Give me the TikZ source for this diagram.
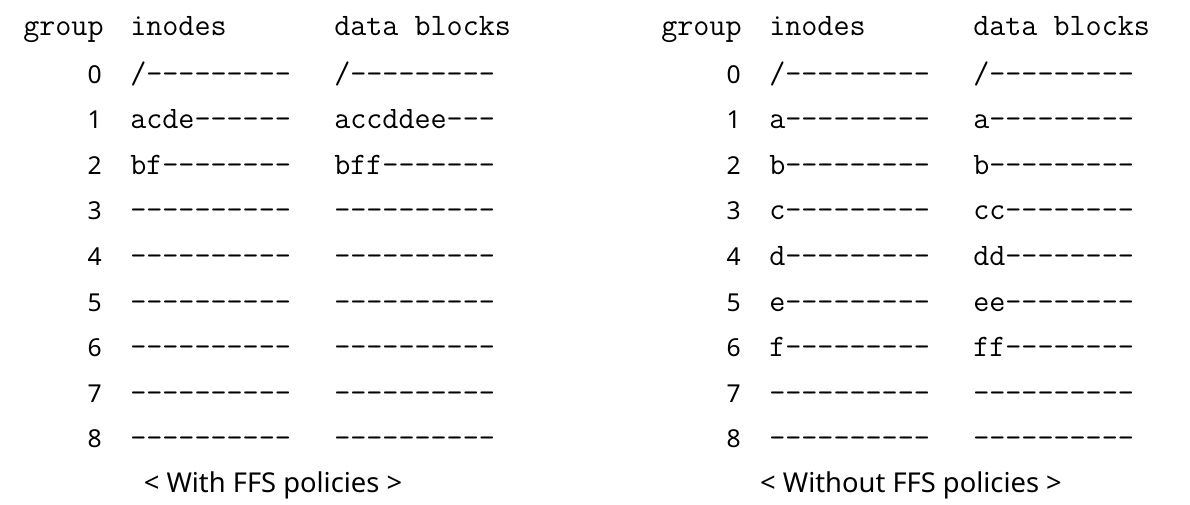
\documentclass[tikz,border=0pt]{standalone}
\usepackage{fontspec}
\setmainfont{Noto Sans}
\begin{document}
\begin{tikzpicture}[x=0.75pt,y=-0.75pt,
  cell/.style={anchor=base west,inner sep=0pt,font=\ttfamily\fontsize{23.4}{26}\selectfont},
  num/.style={anchor=base east,inner sep=0pt,font=\fontsize{18.5}{22}\selectfont},
  caption/.style={anchor=base,inner sep=0pt,font=\fontsize{20.5}{24}\selectfont}]
\useasboundingbox (0,0) rectangle (1190,504);
% left table
\node[cell] (lg) at (23,35) {group};
\node[cell] (li) at (130,35) {inodes};
\node[cell] (ld) at (334,35) {data blocks};
\foreach \r/\a/\b [count=\k from 0] in {0/{/---------}/{/---------},1/acde------/accddee---,2/bf--------/bff-------,3/----------/----------,4/----------/----------,5/----------/----------,6/----------/----------,7/----------/----------,8/----------/----------}{
  \pgfmathsetmacro{\yy}{83+45.6*\k}
  \node[num] (ln\k) at (102,\yy) {\r};
  \node[cell] (la\k) at (130,\yy) {\a};
  \node[cell] (lb\k) at (334,\yy) {\b};
}
\node[caption] (lc) at (273,492) {< With FFS policies >};
% right table
\node[cell] (rg) at (661,35) {group};
\node[cell] (ri) at (769,35) {inodes};
\node[cell] (rd) at (973,35) {data blocks};
\foreach \r/\a/\b [count=\k from 0] in {0/{/---------}/{/---------},1/a---------/a---------,2/b---------/b---------,3/c---------/cc--------,4/d---------/dd--------,5/e---------/ee--------,6/f---------/ff--------,7/----------/----------,8/----------/----------}{
  \pgfmathsetmacro{\yy}{83+45.6*\k}
  \node[num] (rn\k) at (741,\yy) {\r};
  \node[cell] (ra\k) at (769,\yy) {\a};
  \node[cell] (rb\k) at (973,\yy) {\b};
}
\node[caption] (rc) at (911,492) {< Without FFS policies >};
\end{tikzpicture}
\end{document}
